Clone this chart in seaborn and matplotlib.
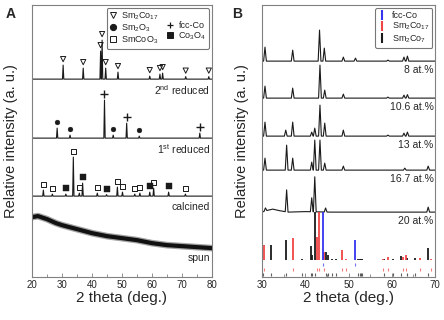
import numpy as np
import pandas as pd
import matplotlib
matplotlib.use("Agg")
import matplotlib.pyplot as plt
from matplotlib.lines import Line2D
from matplotlib.ticker import MultipleLocator
import seaborn as sns

# ---------------- panel A: XRD of the processing steps ----------------
# peak positions (2 theta), heights above each pattern's baseline, phase
red2_pos = [30.4, 37.1, 42.9, 43.4, 44.6, 48.7, 59.3, 62.7, 63.6, 71.3, 79.0]
red2_h = [14, 11, 28, 39, 11, 7, 3, 5, 6, 2.5, 2.5]
red2_phase = ["Sm2Co17"] * len(red2_pos)

red1_pos = [28.4, 32.7, 44.2, 47.1, 51.6, 55.8, 76.0]
red1_h = [10, 3, 38, 3, 15, 2, 5]
red1_phase = ["Sm2O3", "Sm2O3", "fcc-Co", "Sm2O3", "fcc-Co", "Sm2O3", "fcc-Co"]

calc_pos = [23.8, 26.8, 31.3, 33.8, 35.8, 36.9, 41.8, 44.9, 48.5, 50.2,
            54.3, 56.0, 59.3, 60.6, 65.6, 71.2]
calc_h = [6, 2, 2, 39, 3, 13, 3, 1.5, 9, 4, 2, 3, 4, 8, 4, 2]
calc_phase = ["SmCoO3", "SmCoO3", "Co3O4", "SmCoO3", "SmCoO3", "Co3O4",
              "SmCoO3", "Co3O4", "SmCoO3", "SmCoO3", "SmCoO3", "SmCoO3",
              "Co3O4", "SmCoO3", "Co3O4", "SmCoO3"]

# as-spun amorphous background
spun_x = [20, 22, 25, 28, 30, 35, 40, 45, 50, 55, 60, 65, 70, 75, 80]
spun_y = [60, 61, 58, 54, 52, 48, 44, 41, 39, 37, 34, 32, 31, 30, 29]

a_labels = ["2$^{nd}$ reduced", "1$^{st}$ reduced", "calcined"]

# ---------------- panel B: XRD vs Sm content ----------------
b_labels = ["8 at.%", "10.6 at.%", "13 at.%", "16.7 at.%", "20 at.%"]

p8_pos = [30.7, 37.1, 43.3, 44.4, 48.8, 51.6, 59.1, 62.8, 63.6]
p8_h = [14, 11, 31, 13, 4, 3, 1, 4, 5]
p106_pos = [30.7, 37.1, 43.4, 44.5, 48.8, 59.1, 62.8, 63.6]
p106_h = [12, 10, 33, 8, 4, 1, 3, 3.5]
p13_pos = [30.7, 35.5, 37.1, 41.5, 42.2, 43.4, 44.5, 48.8, 59.1, 62.8, 63.6]
p13_h = [14, 6, 14, 4, 8, 31, 13, 6, 1, 3, 4]
p167_pos = [30.7, 35.7, 37.1, 41.5, 42.2, 43.4, 44.5, 48.8, 63.0, 68.4]
p167_h = [12, 25, 12, 8, 30, 30, 7, 4, 2, 4]
p20_pos = [30.8, 35.7, 41.5, 42.2, 44.7, 68.4]
p20_h = [3, 22, 14, 35, 4, 5]
p20_hump_x = [30, 31, 32.5, 34, 36, 40, 46, 70]
p20_hump_y = [0, 1.5, 3, 1.5, 0, 0.5, 0, 0]

# reference patterns (stick positions / relative heights)
fcc_pos = [44.2, 51.5]
fcc_h = [48, 20]
sm217_pos = [30.5, 37.1, 42.8, 43.2, 44.4, 48.5, 49.5, 58.0, 59.0, 62.6,
             63.3, 66.5, 69.0]
sm217_h = [15, 22, 23, 48, 8, 10, 1, 1, 3, 3, 5, 2, 1]
sm27_pos = [30.2, 32.2, 35.5, 39.2, 41.3, 41.6, 42.2, 44.7, 45.2, 46.1, 47.2,
            52.3, 52.6, 52.9, 53.2, 58.2, 60.2, 62.1, 63.6, 65.3, 68.4]
sm27_h = [0, 15, 20, 1, 14, 5, 48, 8, 5, 1, 1, 1, 1, 1, 1, 1, 1, 4, 2, 2, 12]


def profile(pos, h, w, xlim, base_x=None, base_y=None):
    # polyline: flat baseline with narrow triangular peaks at read positions
    xs = [xlim[0], xlim[1]]
    for p in pos:
        xs += [p - w, p, p + w]
    if base_x is not None:
        xs += list(base_x)
    xs = np.unique(np.clip(xs, xlim[0], xlim[1]))
    ys = np.zeros_like(xs, dtype=float)
    if base_x is not None:
        ys += np.interp(xs, base_x, base_y)
    for p, hh in zip(pos, h):
        ys += np.clip(hh * (1 - np.abs(xs - p) / w), 0, None)
    return pd.DataFrame({"x": xs, "y": ys})


sns.set_theme(style="ticks")
plt.rcParams["font.family"] = ["Liberation Sans", "DejaVu Sans"]
plt.rcParams["mathtext.default"] = "regular"

fig = plt.figure(figsize=(4.44, 3.2), dpi=100)
axA = fig.add_axes([0.072, 0.134, 0.405, 0.85])
axB = fig.add_axes([0.590, 0.134, 0.390, 0.85])

spine_col = "#808080"
for ax in (axA, axB):
    for s in ax.spines.values():
        s.set_color(spine_col)
        s.set_linewidth(0.8)
    ax.tick_params(axis="x", which="both", direction="in", color=spine_col,
                   labelsize=7, pad=2)
    ax.tick_params(axis="x", which="major", length=3, width=0.6)
    ax.tick_params(axis="x", which="minor", length=2, width=0.6)
    ax.xaxis.set_minor_locator(MultipleLocator(5))
    ax.set_yticks([])
    ax.set_ylim(0, 272)
    ax.set_xlabel("2 theta (deg.)", fontsize=11, labelpad=1)
    ax.set_ylabel("Relative intensity (a. u.)", fontsize=10.5)

# ---- panel A ----
axA.set_xlim(20, 80)
axA.set_xticks([20, 30, 40, 50, 60, 70, 80])
axA.yaxis.set_label_coords(-0.075, 0.5)

offsets_a = [198, 139, 81]
marker_style = {
    "Sm2Co17": dict(marker="v", facecolor="none", edgecolor="k", s=14, linewidth=0.7),
    "Sm2O3": dict(marker="o", facecolor="k", edgecolor="k", s=12, linewidth=0.3),
    "fcc-Co": dict(marker="+", color="k", s=28, linewidth=1.0),
    "SmCoO3": dict(marker="s", facecolor="none", edgecolor="k", s=12, linewidth=0.7),
    "Co3O4": dict(marker="s", facecolor="k", edgecolor="k", s=14, linewidth=0.3),
}
for pos, h, ph, off, lab in zip([red2_pos, red1_pos, calc_pos],
                                [red2_h, red1_h, calc_h],
                                [red2_phase, red1_phase, calc_phase],
                                offsets_a, a_labels):
    df = profile(pos, h, 0.22, (20, 80))
    df["y"] += off
    sns.lineplot(data=df, x="x", y="y", ax=axA, color="k", lw=0.8,
                 estimator=None, sort=False)
    mk = pd.DataFrame({"x": pos, "y": np.array(h) + off + 6, "phase": ph})
    for name, g in mk.groupby("phase"):
        sns.scatterplot(data=g, x="x", y="y", ax=axA, legend=False,
                        **marker_style[name])
    axA.text(79.5, off - 11, lab, ha="right", va="center", fontsize=7.5)

spun = pd.DataFrame({"x": spun_x, "y": spun_y})
sns.lineplot(data=spun, x="x", y="y", ax=axA, color="#666666", lw=4.8,
             alpha=0.6, estimator=None, sort=False)
sns.lineplot(data=spun, x="x", y="y", ax=axA, color="#111111", lw=3.0,
             estimator=None, sort=False)
axA.text(79.5, spun_y[-1] - 10, "spun", ha="right", va="center", fontsize=7.5)

hA = []
for name, lab in [("Sm2Co17", "Sm$_2$Co$_{17}$"), ("Sm2O3", "Sm$_2$O$_3$"),
                  ("SmCoO3", "SmCoO$_3$"), (None, " "), ("fcc-Co", "fcc-Co"),
                  ("Co3O4", "Co$_3$O$_4$")]:
    if name is None:
        hA.append(Line2D([], [], linestyle="none", label=lab))
        continue
    st = marker_style[name]
    fc = st.get("facecolor", "k")
    hA.append(Line2D([], [], linestyle="none", marker=st["marker"],
                     markersize=4.5, markerfacecolor=fc, markeredgecolor="k",
                     markeredgewidth=0.9 if st["marker"] == "+" else 0.7,
                     label=lab))
legA = axA.legend(handles=hA, ncol=2, loc="upper right", fontsize=6.5,
                  handlelength=0.8, handletextpad=0.5, columnspacing=0.9,
                  labelspacing=0.05, borderpad=0.3, borderaxespad=0.3,
                  frameon=True, fancybox=True)
legA.get_frame().set_edgecolor("#555555")
legA.get_frame().set_linewidth(0.8)

# ---- panel B ----
axB.set_xlim(30, 70)
axB.set_xticks([30, 40, 50, 60, 70])
axB.yaxis.set_label_coords(-0.075, 0.5)

offsets_b = [216, 179, 141, 107, 65]
b_pos = [p8_pos, p106_pos, p13_pos, p167_pos, p20_pos]
b_h = [p8_h, p106_h, p13_h, p167_h, p20_h]
for i, (pos, h, off, lab) in enumerate(zip(b_pos, b_h, offsets_b, b_labels)):
    if i == 4:
        df = profile(pos, h, 0.32, (30, 70), p20_hump_x, p20_hump_y)
    else:
        df = profile(pos, h, 0.32, (30, 70))
    df["y"] += off
    sns.lineplot(data=df, x="x", y="y", ax=axB, color="k", lw=0.8,
                 estimator=None, sort=False)
    axB.text(69.6, off - 9, lab, ha="right", va="center", fontsize=7.5)

stick_base = 17
ref = [(sm27_pos, sm27_h, "#1a1a1a", 1),
       (sm217_pos, sm217_h, "#f04545", 6),
       (fcc_pos, fcc_h, "#3535f0", 11)]
for pos, h, col, row in ref:
    axB.vlines(pos, stick_base, stick_base + np.array(h), color=col, lw=1.3)
    axB.vlines(pos, row, row + 3, color=col, lw=0.8, alpha=0.7)

hB = [Line2D([], [], linestyle="none", marker="|", markersize=7,
             markeredgewidth=1.5, color=c, label=l)
      for c, l in [("#3535f0", "fcc-Co"), ("#f04545", "Sm$_2$Co$_{17}$"),
                   ("#1a1a1a", "Sm$_2$Co$_7$")]]
legB = axB.legend(handles=hB, loc="upper right", fontsize=6.5,
                  handlelength=0.9, handletextpad=0.6, labelspacing=0.1,
                  borderpad=0.35, borderaxespad=0.3, frameon=True,
                  fancybox=True)
legB.get_frame().set_edgecolor("#555555")
legB.get_frame().set_linewidth(0.8)

fig.text(0.025, 0.955, "A", fontsize=10, fontweight="bold", ha="center", va="center")
fig.text(0.533, 0.955, "B", fontsize=10, fontweight="bold", ha="center", va="center")

fig.savefig("out.png", dpi=100)
